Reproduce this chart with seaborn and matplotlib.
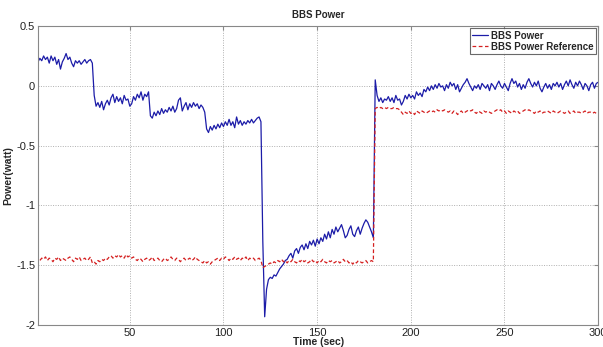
import numpy as np
import pandas as pd
import matplotlib
matplotlib.use("Agg")
import matplotlib.pyplot as plt
import seaborn as sns

# BBS power, one sample per second (t = 0..300)
bbs_power = [
    0.00, 0.20, 0.23, 0.21, 0.25, 0.22, 0.24, 0.19, 0.25, 0.21,
    0.24, 0.18, 0.22, 0.14, 0.20, 0.23, 0.27, 0.22, 0.24, 0.19,
    0.16, 0.21, 0.19, 0.21, 0.18, 0.20, 0.22, 0.19, 0.21, 0.22,
    0.19, -0.08, -0.17, -0.14, -0.18, -0.13, -0.20, -0.15, -0.12, -0.16,
    -0.10, -0.07, -0.14, -0.09, -0.13, -0.10, -0.15, -0.08, -0.12, -0.11,
    -0.17, -0.15, -0.09, -0.12, -0.07, -0.10, -0.05, -0.12, -0.07, -0.09,
    -0.05, -0.25, -0.27, -0.22, -0.25, -0.21, -0.24, -0.19, -0.23, -0.20,
    -0.22, -0.18, -0.21, -0.17, -0.22, -0.19, -0.12, -0.10, -0.21, -0.17,
    -0.14, -0.20, -0.15, -0.18, -0.14, -0.17, -0.15, -0.19, -0.16, -0.18,
    -0.22, -0.36, -0.39, -0.34, -0.37, -0.33, -0.36, -0.32, -0.35, -0.31,
    -0.34, -0.30, -0.33, -0.28, -0.33, -0.30, -0.35, -0.26, -0.32, -0.29,
    -0.33, -0.30, -0.32, -0.29, -0.31, -0.28, -0.31, -0.29, -0.27, -0.26,
    -0.30, -1.30, -1.93, -1.70, -1.62, -1.60, -1.61, -1.58, -1.59, -1.56,
    -1.53, -1.51, -1.49, -1.46, -1.45, -1.42, -1.40, -1.44, -1.38, -1.36,
    -1.40, -1.35, -1.33, -1.37, -1.32, -1.36, -1.30, -1.33, -1.29, -1.34,
    -1.28, -1.32, -1.27, -1.30, -1.24, -1.28, -1.22, -1.27, -1.20, -1.24,
    -1.18, -1.22, -1.19, -1.16, -1.21, -1.27, -1.25, -1.20, -1.17, -1.24,
    -1.26, -1.21, -1.18, -1.24, -1.19, -1.15, -1.12, -1.14, -1.18, -1.22,
    -1.27, 0.05, -0.08, -0.13, -0.10, -0.14, -0.11, -0.12, -0.09, -0.13,
    -0.10, -0.14, -0.08, -0.12, -0.11, -0.16, -0.13, -0.08, -0.11, -0.07,
    -0.10, -0.08, -0.11, -0.05, -0.08, -0.06, -0.09, -0.03, -0.05, -0.01,
    -0.04, 0.00, -0.03, 0.01, -0.02, 0.02, -0.01, 0.00, -0.04, 0.01,
    -0.02, 0.03, 0.00, 0.02, -0.03, 0.01, -0.05, -0.02, 0.01, 0.03,
    0.06, 0.02, -0.01, -0.04, 0.00, -0.02, 0.01, -0.03, 0.02, 0.00,
    -0.02, 0.01, -0.04, 0.02, 0.00, -0.03, 0.01, 0.04, 0.00, -0.02,
    0.02, -0.01, -0.04, 0.02, 0.06, 0.02, 0.04, -0.01, 0.02, -0.03,
    0.01, -0.02, 0.03, 0.06, 0.02, -0.01, 0.03, 0.00, 0.04, -0.02,
    -0.05, -0.01, 0.02, -0.02, 0.01, -0.03, 0.02, 0.00, 0.03, -0.01,
    0.02, -0.03, 0.01, 0.04, 0.00, 0.05, 0.01, -0.02, 0.03, 0.00,
    0.04, 0.01, -0.03, 0.02, 0.00, -0.04, 0.01, 0.03, -0.02, 0.02,
    0.03,
]

# BBS power reference, same time base
bbs_reference = [
    -1.50, -1.48, -1.46, -1.44, -1.45, -1.43, -1.46, -1.44, -1.45, -1.47,
    -1.44, -1.45, -1.43, -1.46, -1.44, -1.45, -1.46, -1.44, -1.43, -1.45,
    -1.47, -1.44, -1.45, -1.43, -1.46, -1.45, -1.44, -1.46, -1.45, -1.43,
    -1.48, -1.47, -1.49, -1.46, -1.47, -1.45, -1.46, -1.44, -1.45, -1.43,
    -1.42, -1.44, -1.42, -1.43, -1.41, -1.43, -1.42, -1.44, -1.41, -1.43,
    -1.42, -1.44, -1.43, -1.45, -1.46, -1.44, -1.45, -1.47, -1.45, -1.44,
    -1.46, -1.45, -1.43, -1.46, -1.45, -1.44, -1.46, -1.47, -1.45, -1.44,
    -1.46, -1.45, -1.43, -1.45, -1.46, -1.44, -1.45, -1.47, -1.45, -1.44,
    -1.46, -1.45, -1.44, -1.46, -1.45, -1.43, -1.45, -1.46, -1.47, -1.48,
    -1.46, -1.48, -1.47, -1.49, -1.47, -1.46, -1.45, -1.44, -1.46, -1.44,
    -1.45, -1.43, -1.44, -1.46, -1.44, -1.45, -1.43, -1.45, -1.44, -1.46,
    -1.44, -1.45, -1.43, -1.46, -1.44, -1.45, -1.44, -1.46, -1.45, -1.44,
    -1.46, -1.52, -1.51, -1.50, -1.49, -1.48, -1.49, -1.47, -1.48, -1.46,
    -1.47, -1.45, -1.47, -1.46, -1.48, -1.46, -1.47, -1.45, -1.47, -1.48,
    -1.46, -1.47, -1.45, -1.47, -1.46, -1.48, -1.47, -1.45, -1.47, -1.46,
    -1.48, -1.46, -1.47, -1.45, -1.47, -1.48, -1.46, -1.47, -1.46, -1.48,
    -1.47, -1.46, -1.48, -1.47, -1.45, -1.47, -1.46, -1.48, -1.47, -1.49,
    -1.47, -1.48, -1.46, -1.47, -1.48, -1.47, -1.46, -1.48, -1.47, -1.46,
    -1.47, -0.19, -0.18, -0.19, -0.18, -0.19, -0.18, -0.19, -0.18, -0.19,
    -0.19, -0.18, -0.19, -0.19, -0.20, -0.22, -0.24, -0.22, -0.23, -0.21,
    -0.23, -0.22, -0.24, -0.21, -0.22, -0.23, -0.21, -0.22, -0.23, -0.22,
    -0.21, -0.22, -0.21, -0.22, -0.20, -0.21, -0.20, -0.21, -0.20, -0.21,
    -0.22, -0.21, -0.23, -0.21, -0.22, -0.24, -0.22, -0.21, -0.23, -0.22,
    -0.21, -0.20, -0.21, -0.20, -0.22, -0.23, -0.21, -0.22, -0.23, -0.21,
    -0.22, -0.21, -0.22, -0.23, -0.22, -0.21, -0.20, -0.21, -0.20, -0.22,
    -0.21, -0.23, -0.21, -0.22, -0.23, -0.21, -0.22, -0.21, -0.23, -0.22,
    -0.21, -0.20, -0.21, -0.20, -0.21, -0.22, -0.23, -0.21, -0.22, -0.21,
    -0.23, -0.22, -0.22, -0.21, -0.22, -0.23, -0.21, -0.22, -0.23, -0.22,
    -0.21, -0.22, -0.23, -0.22, -0.21, -0.23, -0.22, -0.21, -0.23, -0.22,
    -0.22, -0.23, -0.22, -0.21, -0.23, -0.22, -0.22, -0.23, -0.22, -0.23,
    -0.22,
]

time_sec = np.arange(len(bbs_power))

x_ticks = [50, 100, 150, 200, 250, 300]
y_ticks = [-2, -1.5, -1, -0.5, 0, 0.5]
y_tick_labels = ["-2", "-1.5", "-1", "-0.5", "0", "0.5"]

sns.set_style("whitegrid")
plt.rcParams["font.family"] = ["Liberation Sans", "DejaVu Sans"]
plt.rcParams["font.size"] = 8

df = pd.DataFrame({"time": time_sec, "power": bbs_power, "reference": bbs_reference})

fig, ax = plt.subplots(figsize=(6.03, 3.47), dpi=100)
fig.subplots_adjust(left=0.063, right=0.992, top=0.925, bottom=0.063)

sns.lineplot(data=df, x="time", y="power", ax=ax, color="#1c1ca8",
             linewidth=0.9, label="BBS Power")
sns.lineplot(data=df, x="time", y="reference", ax=ax, color="#d42020",
             linewidth=0.9, linestyle=(0, (3, 2)), label="BBS Power Reference")

ax.set_xlim(1, 300)
ax.set_ylim(-2, 0.5)
ax.set_xticks(x_ticks)
ax.set_yticks(y_ticks)
ax.set_yticklabels(y_tick_labels)

ax.grid(True, color="#b0b0b0", linestyle=(0, (1, 1.5)), linewidth=0.7)
for side in ax.spines.values():
    side.set_color("#888888")
    side.set_linewidth(0.8)
ax.tick_params(direction="in", length=3, color="#888888", labelcolor="#222222",
               labelsize=8, pad=2, top=True, right=True)

ax.set_title("BBS Power", fontsize=7, fontweight="bold", pad=6)
ax.set_xlabel("Time (sec)", fontsize=7.5, fontweight="bold", labelpad=-1)
ax.set_ylabel("Power(watt)", fontsize=7.5, fontweight="bold", labelpad=2)

leg = ax.legend(loc="upper right", frameon=True, fancybox=False,
                handlelength=1.6, handletextpad=0.3, borderpad=0.25,
                labelspacing=0.1, borderaxespad=0.25,
                prop={"weight": "bold", "size": 7})
leg.get_frame().set_edgecolor("#444444")
leg.get_frame().set_linewidth(0.8)

fig.savefig("out.png", dpi=100)
